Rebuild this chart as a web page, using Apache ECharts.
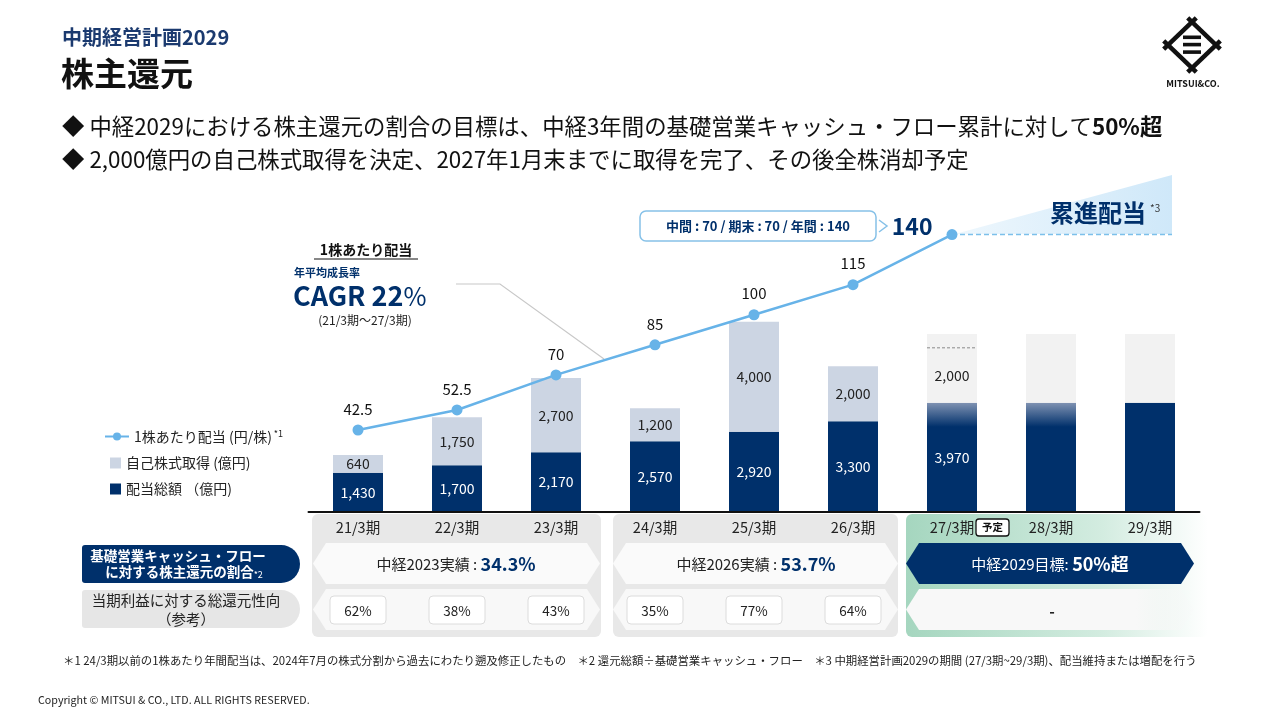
<!DOCTYPE html>
<html><head><meta charset="utf-8">
<script src="https://cdn.jsdelivr.net/npm/echarts@6/dist/echarts.min.js"></script>
<style>html,body{margin:0;padding:0;background:#fff}#c{width:1280px;height:720px}</style>
</head><body><div id="c"></div>
<script>
var categories = ['21/3期','22/3期','23/3期','24/3期','25/3期','26/3期','27/3期','28/3期','29/3期'];
var dividendTotal = [1430,1700,2170,2570,2920,3300,3970,3970,3970];
var buyback = [640,1750,2700,1200,4000,2000,2000,null,null];
var planned = [null,null,null,null,null,null,500,2500,2500];
var dps = [42.5,52.5,70,85,100,115,140,null,null];
var payoutRatios = ['62%','38%','43%','35%','77%','64%'];
var groupResults = [['中経2023実績 : ','34.3%'],['中経2026実績 : ','53.7%'],['中経2029目標: ','50%超']];

var F = "'Noto Sans CJK JP','Noto Sans',sans-serif";
var NAVY = '#00306b', LIGHT = '#ccd5e3', LINE = '#67b3e8', PALE = '#f2f2f2';
var chart = echarts.init(document.getElementById('c'));

function fmt(v){ return Number(v).toLocaleString('en-US'); }
var navyFade = new echarts.graphic.LinearGradient(0,0,0,1,[{offset:0,color:'#7f92b2'},{offset:0.22,color:NAVY},{offset:1,color:NAVY}]);

var divData = dividendTotal.map(function(v,i){
  var d = {value:v};
  if(i>=7) d.label = {show:false};
  if(i===6 || i===7) d.itemStyle = {color: navyFade};
  return d;
});
var bbData = buyback.map(function(v,i){
  var d = {value:v};
  if(i===6) d.itemStyle = {color: PALE};
  return d;
});
var dpsData = dps.map(function(v,i){
  if(i===6) return {value:v, label:{show:true, position:'left', distance:14, offset:[0,-8], formatter:'{b|140}', rich:{b:{fontSize:23, fontWeight:'bold', color:NAVY, fontFamily:F}}}};
  return v;
});

chart.setOption({
  animation:false,
  textStyle:{fontFamily:F},
  legend:[
    {data:['1株あたり配当 (円/株)'], left:99, top:424, orient:'vertical', itemWidth:24, itemHeight:10,
     textStyle:{fontSize:14, color:'#222', fontFamily:F, rich:{s:{fontSize:9, color:'#222', verticalAlign:'top', padding:[0,0,6,2]}}},
     formatter:function(n){return n+'{s|*1}';}},
    {data:['自己株式取得 (億円)'], left:105, top:451, itemWidth:11, itemHeight:11, icon:'rect',
     textStyle:{fontSize:14, color:'#222', fontFamily:F}},
    {data:['配当総額 （億円)'], left:105, top:477, itemWidth:11, itemHeight:11, icon:'rect',
     textStyle:{fontSize:14, color:'#222', fontFamily:F}}
  ],
  grid:{left:308.5, right:80.5, top:209.5, bottom:208, containLabel:false},
  xAxis:{type:'category', data:categories, z:10,
    axisLine:{lineStyle:{color:'#111', width:2}}, axisTick:{show:false},
    axisLabel:{fontSize:14.5, color:'#222', margin:8, fontFamily:F}},
  yAxis:[
    {type:'value', min:0, max:11000, show:false, splitLine:{show:false}},
    {type:'value', min:1.6, max:152.5, show:false, splitLine:{show:false}}
  ],
  series:[
    {name:'配当総額 （億円)', type:'bar', stack:'s', barWidth:50, data:divData, itemStyle:{color:NAVY},
     label:{show:true, position:'inside', color:'#fff', fontSize:14, fontFamily:F, formatter:function(p){return fmt(p.value);}}},
    {name:'自己株式取得 (億円)', type:'bar', stack:'s', barWidth:50, data:bbData, itemStyle:{color:LIGHT},
     label:{show:true, position:'inside', color:'#222', fontSize:14, fontFamily:F, formatter:function(p){return fmt(p.value);}}},
    {name:'planned', type:'bar', stack:'s', barWidth:50, data:planned, itemStyle:{color:PALE}, label:{show:false}},
    {name:'1株あたり配当 (円/株)', type:'line', yAxisIndex:1, data:dpsData, symbol:'circle', symbolSize:11,
     lineStyle:{color:LINE, width:2.5}, itemStyle:{color:LINE},
     label:{show:true, position:'top', distance:8, fontSize:15, color:'#111', fontFamily:F}}
  ]
});

var g = [];
function txt(t,x,y,size,color,opts){
  opts = opts||{};
  g.push({type:'text', z:opts.z||20, style:{text:t, x:x, y:y, font:(opts.weight||'normal')+' '+size+'px '+F, fill:color,
    align:opts.align||'left', verticalAlign:opts.va||'middle', rich:opts.rich}});
}
function hex(x0,x1,y0,y1,d,fill,z){
  var yc=(y0+y1)/2;
  g.push({type:'polygon', z:z||3, shape:{points:[[x0,yc],[x0+d,y0],[x1-d,y0],[x1,yc],[x1-d,y1],[x0+d,y1]]}, style:{fill:fill}});
}
// header
txt('中期経営計画2029',62,37,20,'#1b3a6f',{weight:'bold'});
txt('株主還元',61,73,33,'#111',{weight:'bold'});
txt('◆ 中経2029における株主還元の割合の目標は、中経3年間の基礎営業キャッシュ・フロー累計に対して{b|50%超}',62,126,22.4,'#111',
  {rich:{b:{fontSize:22.4, fontWeight:'bold', fontFamily:F, fill:'#111', color:'#111'}}});
txt('◆ 2,000億円の自己株式取得を決定、2027年1月末までに取得を完了、その後全株消却予定',62,159,22.4,'#111');
// logo
var lw = {stroke:'#111', lineWidth:4.5};
[[[1163.7,49.2],[1196.3,17.8]],[[1187.7,17.8],[1220.3,49.2]],[[1220.3,40.8],[1187.7,72.2]],[[1196.3,72.2],[1163.7,40.8]]].forEach(function(s){
  g.push({type:'line', z:20, shape:{x1:s[0][0],y1:s[0][1],x2:s[1][0],y2:s[1][1]}, style:lw});
});
[35.5,42.8,50.3].forEach(function(y){ g.push({type:'rect', z:20, shape:{x:1183,y:y,width:18,height:3.6}, style:{fill:'#111'}}); });
txt('MITSUI&CO.',1193,84,9,'#111',{weight:'bold',align:'center'});
// CAGR block
txt('1株あたり配当',366,250,14,'#111',{weight:'bold',align:'center'});
g.push({type:'line', z:20, shape:{x1:314,y1:259,x2:418,y2:259}, style:{stroke:'#111',lineWidth:1}});
txt('年平均成長率',294,273,11,NAVY,{weight:'bold'});
txt('{c|CAGR 22}{p|%}',293,296,27,NAVY,{weight:'bold',
  rich:{c:{fontSize:27,fontWeight:'bold',fontFamily:F,fill:NAVY,color:NAVY},p:{fontSize:25,fontWeight:'normal',fontFamily:F,fill:NAVY,color:NAVY}}});
txt('(21/3期～27/3期)',365,320,12,'#222',{align:'center'});
g.push({type:'polyline', z:1, shape:{points:[[456,284],[500,284],[604,359]]}, style:{stroke:'#c8c8c8',lineWidth:1.2, fill:null}});
// callout
g.push({type:'rect', z:20, shape:{x:640,y:211,width:236,height:30,r:6}, style:{fill:'#fff',stroke:'#86c1e8',lineWidth:1.5}});
txt('中間 : 70 / 期末 : 70 / 年間 : 140',758,226.5,13,NAVY,{weight:'bold',align:'center'});
g.push({type:'polyline', z:20, shape:{points:[[879,220],[887,226],[879,232]]}, style:{stroke:'#86c1e8',lineWidth:1.5,fill:null}});
// progressive dividend wedge
g.push({type:'polygon', z:1, shape:{points:[[955,234],[1172,175],[1172,234]]},
  style:{fill:new echarts.graphic.LinearGradient(0,0,1,0,[{offset:0,color:'#eef7fd'},{offset:1,color:'#cfe8f9'}])}});
g.push({type:'line', z:2, shape:{x1:960,y1:234.5,x2:1172,y2:234.5}, style:{stroke:'#7cc0ea',lineWidth:1.3,lineDash:[5,3]}});
txt('累進配当',1146,213,24,NAVY,{weight:'bold',align:'right'});
txt('*3',1150,208,10,'#333');
// bottom panels
g.push({type:'rect', z:0, shape:{x:312,y:514,width:289,height:123,r:6}, style:{fill:'#e8e8e8'}});
g.push({type:'rect', z:0, shape:{x:613,y:514,width:285,height:123,r:6}, style:{fill:'#e8e8e8'}});
g.push({type:'rect', z:0, shape:{x:906,y:514,width:302,height:123,r:6},
  style:{fill:new echarts.graphic.LinearGradient(0,0,1,0,[{offset:0,color:'#a5d6bf'},{offset:0.65,color:'#d3ece0'},{offset:1,color:'rgba(255,255,255,1)'}])}});
// 予定 badge
g.push({type:'rect', z:20, shape:{x:976,y:519,width:33,height:17,r:3}, style:{fill:'#fff',stroke:'#111',lineWidth:1.3}});
txt('予定',992.5,527.5,10.5,'#111',{weight:'bold',align:'center'});
// row 1 banners
hex(313,600,543,584,13,'#fafafa');
hex(613,898,543,584,13,'#fafafa');
hex(906,1194,543,584,13,NAVY);
var richW = function(c,b){return {a:{fontSize:15,fontFamily:F,color:c,fill:c},b:{fontSize:18,fontWeight:'bold',fontFamily:F,color:b,fill:b}};};
txt('{a|'+groupResults[0][0]+'}{b|'+groupResults[0][1]+'}',456,564,15,'#222',{align:'center',rich:richW('#222',NAVY)});
txt('{a|'+groupResults[1][0]+'}{b|'+groupResults[1][1]+'}',756,564,15,'#222',{align:'center',rich:richW('#222',NAVY)});
txt('{a|'+groupResults[2][0]+'}{b|'+groupResults[2][1]+'}',1050,564,15,'#fff',{align:'center',rich:richW('#fff','#fff')});
// row 2 banners
hex(313,600,589,630,13,'#f8f8f8');
hex(613,898,589,630,13,'#f8f8f8');
g.push({type:'polygon', z:3, shape:{points:[[906,609.5],[919,589],[1181,589],[1194,609.5],[1181,630],[919,630]]},
  style:{fill:new echarts.graphic.LinearGradient(0,0,1,0,[{offset:0,color:'#f8f8f8'},{offset:0.8,color:'#f8f8f8'},{offset:1,color:'rgba(248,248,248,0.2)'}])}});
txt('-',1052,611,15,'#222',{align:'center',weight:'bold'});
// left row labels
g.push({type:'rect', z:3, shape:{x:82,y:545,width:218,height:38,r:[3,19,19,3]}, style:{fill:NAVY}});
txt('基礎営業キャッシュ・フロー',178,556,13.5,'#fff',{weight:'bold',align:'center'});
txt('に対する株主還元の割合{s|*2}',184,572,13.5,'#fff',{weight:'bold',align:'center',
  rich:{s:{fontSize:9,color:'#fff',fill:'#fff',fontFamily:F,verticalAlign:'bottom'}}});
g.push({type:'rect', z:3, shape:{x:82,y:590,width:218,height:38,r:[3,19,19,3]}, style:{fill:'#e6e6e6'}});
txt('当期利益に対する総還元性向',186,600,14.5,'#222',{align:'center'});
txt('（参考）',186,619,14.5,'#222',{align:'center'});
// footnotes
txt('＊1 24/3期以前の1株あたり年間配当は、2024年7月の株式分割から過去にわたり遡及修正したもの　＊2 還元総額÷基礎営業キャッシュ・フロー　＊3 中期経営計画2029の期間 (27/3期~29/3期)、配当維持または増配を行う',63,661,11.4,'#222');
txt('Copyright © MITSUI & CO., LTD. ALL RIGHTS RESERVED.',38,700,10.7,'#222');

// payout boxes and dashed line positioned via the chart's own scales
payoutRatios.forEach(function(t,i){
  var p = chart.convertToPixel({xAxisIndex:0}, categories[i]);
  g.push({type:'rect', z:5, shape:{x:p-28,y:596,width:56,height:28,r:4}, style:{fill:'#fff',stroke:'#dcdcdc',lineWidth:1}});
  txt(t,p,610.5,13.5,'#222',{align:'center',z:6});
});
var dp = chart.convertToPixel({seriesIndex:0}, [categories[6], dividendTotal[6]+buyback[6]]);
g.push({type:'line', z:30, shape:{x1:dp[0]-25,y1:dp[1],x2:dp[0]+25,y2:dp[1]}, style:{stroke:'#888',lineWidth:1,lineDash:[3,2]}});

chart.setOption({graphic:{elements:g}});
</script></body></html>
